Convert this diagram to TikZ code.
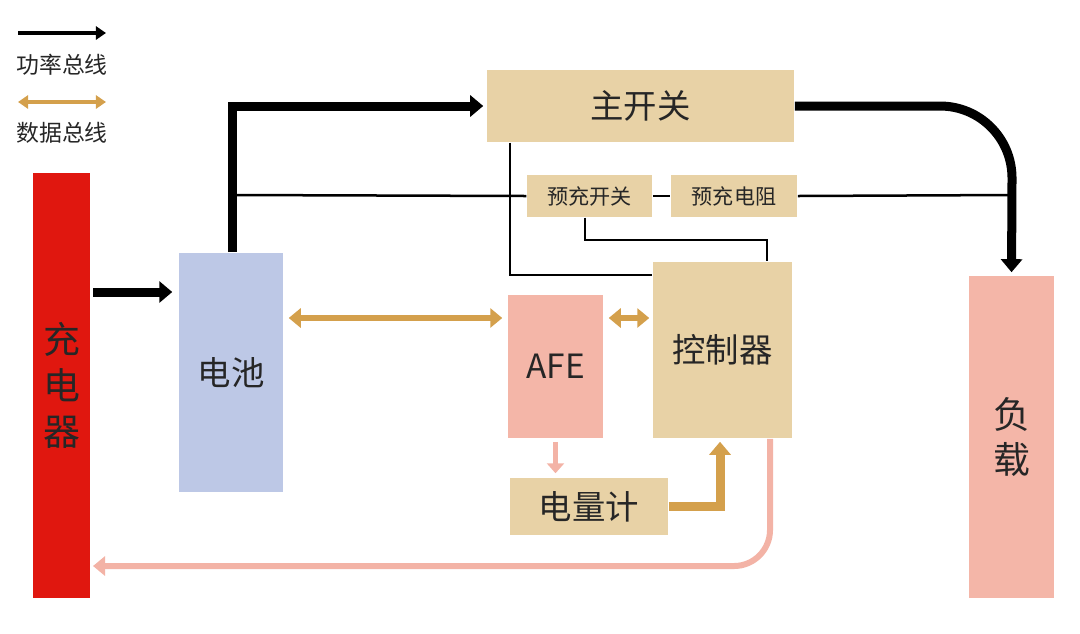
\documentclass[tikz,border=0pt]{standalone}
\usepackage{fontspec}
\setmainfont{Noto Sans CJK SC}
\usetikzlibrary{arrows.meta}
\definecolor{chgred}{HTML}{E0170F}
\definecolor{batblue}{HTML}{BDC8E6}
\definecolor{tan}{HTML}{E8D2A6}
\definecolor{pinkc}{HTML}{F4B6A8}
\definecolor{databus}{HTML}{D4A04C}
\definecolor{retpink}{HTML}{F3B3A6}
\begin{document}
\begin{tikzpicture}
  [x=0.01cm,y=-0.01cm,
   box/.style={inner sep=0pt,font=\fontsize{9.5}{10}\selectfont,text=black!85},
   power/.style={line width=0.9mm,-{Triangle[length=1.3mm,width=2.1mm]}},
   thin/.style={line width=0.25mm},
   data/.style={draw=databus,line width=0.6mm,{Triangle[length=1.2mm,width=1.9mm]}-{Triangle[length=1.2mm,width=1.9mm]}}]
  \useasboundingbox (0,0) rectangle (1080,633);
  % boxes
  \node[box,fill=chgred,minimum width=0.57cm,minimum height=4.25cm,align=center,font=\fontsize{10.5}{13}\selectfont] (chg) at (61.5,385.5) {充\\电\\器};
  \node[box,fill=batblue,minimum width=1.04cm,minimum height=2.39cm] (bat) at (231,372.5) {电池};
  \node[box,fill=tan,minimum width=3.07cm,minimum height=0.72cm] (main) at (640.5,106) {主开关};
  \node[box,fill=tan,minimum width=1.25cm,minimum height=0.42cm,font=\fontsize{6}{7}\selectfont] (pres) at (589.5,196) {预充开关};
  \node[box,fill=tan,minimum width=1.26cm,minimum height=0.42cm,font=\fontsize{6}{7}\selectfont] (pres2) at (734,196) {预充电阻};
  \node[box,fill=pinkc,minimum width=0.95cm,minimum height=1.43cm] (afe) at (555.5,366.5) {AFE};
  \node[box,fill=tan,minimum width=1.39cm,minimum height=1.76cm] (ctrl) at (722.5,350) {控制器};
  \node[box,fill=tan,minimum width=1.58cm,minimum height=0.57cm] (gauge) at (589,506.5) {电量计};
  \node[box,fill=pinkc,minimum width=0.85cm,minimum height=3.22cm,align=center,font=\fontsize{10.5}{13}\selectfont] (load) at (1011.5,437) {负\\载};
  % legend
  \coordinate (l1) at (18,33); \coordinate (l2) at (106,33);
  \draw[line width=0.35mm,-{Triangle[length=1mm,width=1.3mm]}] (l1) -- (l2);
  \node[box,font=\fontsize{6.5}{7}\selectfont] (lp) at (62,65) {功率总线};
  \coordinate (l3) at (18,102); \coordinate (l4) at (106,102);
  \draw[draw=databus,line width=0.35mm,{Triangle[length=1mm,width=1.3mm]}-{Triangle[length=1mm,width=1.3mm]}] (l3) -- (l4);
  \node[box,font=\fontsize{6.5}{7}\selectfont] (ld) at (62,133) {数据总线};
  % power bus
  \draw[power,shorten >=0.6mm] (93,292) -- (bat.west |- 0,292);
  \draw[power,line join=miter,shorten >=0.3mm] (bat.north -| 232,0) |- (main.west);
  \draw[power,shorten >=0.3mm] (main.east) -- (940,106) arc[start angle=-90,end angle=0,radius=72] -- (load.north);
  % thin lines
  \draw[thin] (232,195) -- (pres.west);
  \draw[thin] (pres.east) -- (pres2.west);
  \draw[thin] (pres2.east) -- (1012,195);
  \draw[thin] (main.south -| 510,0) |- (ctrl.west |- 0,275);
  \draw[thin] (pres.south -| 585,0) |- (767,240) -- (ctrl.north -| 767,0);
  % data bus
  \draw[data,shorten <=0.5mm,shorten >=0.5mm] (bat.east |- 0,318) -- (afe.west |- 0,318);
  \draw[data,shorten <=0.5mm,shorten >=0.3mm] (afe.east |- 0,318) -- (ctrl.west |- 0,318);
  \draw[draw=retpink,line width=0.5mm,-{Triangle[length=1mm,width=1.7mm]},shorten <=0.3mm,shorten >=0.4mm] (afe.south) -- (gauge.north -| afe.south);
  \draw[draw=databus,line width=0.9mm,-{Triangle[length=1.3mm,width=2.1mm]},line join=miter,shorten >=0.3mm] (gauge.east) -| (ctrl.south -| 720,0);
  \draw[draw=retpink,line width=0.6mm,-{Triangle[length=1.2mm,width=1.9mm]}] (ctrl.south -| 770,0) -- (770,530) arc[start angle=0,end angle=90,radius=36] -- (93,566);
\end{tikzpicture}
\end{document}
